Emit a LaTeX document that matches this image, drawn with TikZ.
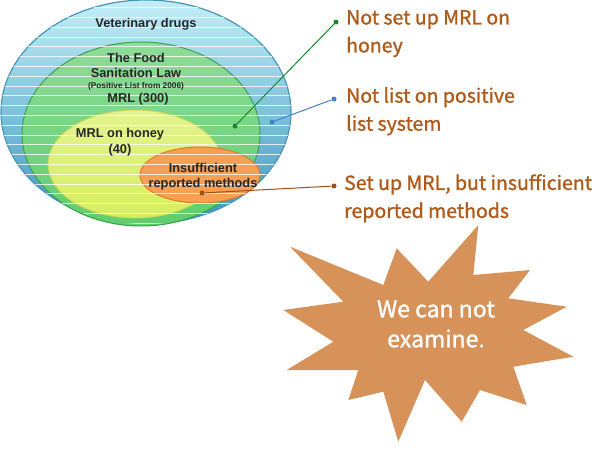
\documentclass[tikz,border=0pt]{standalone}
\usepackage{fontspec}
\setmainfont{Liberation Sans}
\newfontfamily\notefont[FakeBold=1.2]{Noto Sans CJK JP}
\usetikzlibrary{positioning}

\definecolor{vetedge}{RGB}{70,150,185}
\definecolor{vettop}{RGB}{195,238,248}
\definecolor{vetbot}{RGB}{60,150,190}
\definecolor{lawedge}{RGB}{60,160,80}
\definecolor{lawfill}{RGB}{95,205,110}
\definecolor{honeyedge}{RGB}{200,215,90}
\definecolor{honeyfill}{RGB}{215,238,95}
\definecolor{lackedge}{RGB}{225,120,50}
\definecolor{lackfill}{RGB}{245,160,85}
\definecolor{notebrown}{RGB}{175,90,25}
\definecolor{burstfill}{RGB}{214,146,88}
\definecolor{dotgreen}{RGB}{20,140,40}
\definecolor{dotblue}{RGB}{75,125,200}
\definecolor{dotbrown}{RGB}{160,80,20}

\tikzset{
  setlabel/.style={text=black!85, align=center, inner sep=0pt},
  note/.style={font=\notefont\fontsize{19.5}{28}\selectfont, text=notebrown, align=left, anchor=north west, inner sep=0pt},
  pin/.style={circle, inner sep=0pt, minimum size=5pt},
  leader/.style={line width=1pt}
}

\begin{document}
\begin{tikzpicture}[x=1pt,y=-1pt]
    \useasboundingbox (0,0) rectangle (603,453);

    % nested sets
    \path[draw=vetedge, line width=1.2pt, top color=vettop, bottom color=vetbot]
        (146,112) ellipse[x radius=145, y radius=112];
    \path[draw=lawedge, line width=1pt, top color=lawfill!70!white, bottom color=lawfill]
        (141,134) ellipse[x radius=119, y radius=92];
    \path[draw=honeyedge, line width=1pt, top color=honeyfill!70!white, bottom color=honeyfill]
        (135,164) ellipse[x radius=87, y radius=54];
    \path[draw=lackedge, line width=1pt, fill=lackfill]
        (200,175) ellipse[x radius=60, y radius=28];

    % stripes
    \begin{scope}
        \clip (146,112) ellipse[x radius=145, y radius=112];
        \foreach \y in {7.5,17.3,...,226}
            \draw[white, opacity=0.8, line width=0.7pt] (0,\y) -- (300,\y);
    \end{scope}

    \node[setlabel, font=\bfseries\fontsize{12.8}{15}\selectfont] (vet) at (146,24) {Veterinary drugs};
    \node[setlabel, font=\bfseries\fontsize{12.8}{15}\selectfont] (law) at (136,65) {The Food\\Sanitation Law};
    \node[setlabel, font=\bfseries\fontsize{8.3}{9}\selectfont] (list) at (136,86) {(Positive List from 2006)};
    \node[setlabel, font=\bfseries\fontsize{12.8}{15}\selectfont] (mrl) at (138,99) {MRL (300)};
    \node[setlabel, font=\bfseries\fontsize{12.8}{16}\selectfont] (honey) at (120,142) {MRL on honey\\(40)};
    \node[setlabel, font=\bfseries\fontsize{12.8}{15}\selectfont] (lack) at (203,177) {Insufficient\\reported methods};

    % pins and leaders
    \node[pin, fill=dotgreen] (g1) at (235,126) {};
    \node[pin, fill=dotgreen] (g2) at (336,22) {};
    \node[pin, fill=dotblue] (b1) at (272,122) {};
    \node[pin, fill=dotblue] (b2) at (334,99) {};
    \node[pin, fill=dotbrown] (r1) at (202,193) {};
    \node[pin, fill=dotbrown] (r2) at (334,186) {};
    \draw[leader, dotgreen] (g1) -- (g2);
    \draw[leader, dotblue] (b1) -- (b2);
    \draw[leader, dotbrown] (r1) -- (r2);

    \node[note] (n1) at (346,10) {Not set up MRL on\\honey};
    \node[note] (n2) at (346,87) {Not list on positive\\list system};
    \node[note] (n3) at (344,174) {Set up MRL, but insufficient\\reported methods};

    % burst
    \fill[burstfill] (290,246.7) -- (383.3,285) -- (396.7,248.3) -- (428.3,281.7)
        -- (478.3,225) -- (473.3,275) -- (530,270) -- (508.3,298.3)
        -- (566.7,306.7) -- (523.3,330) -- (573.3,356.7) -- (513.3,366.7)
        -- (526.7,405) -- (480,390) -- (461.7,421.7) -- (425,380)
        -- (398.3,441.7) -- (383.3,391.7) -- (348.3,400) -- (358.3,370)
        -- (286.7,370) -- (333.3,341.7) -- (283.3,310) -- (343.3,301.7) -- cycle;
    \node[font=\notefont\fontsize{23}{30}\selectfont, text=white, align=center] (msg) at (436,324) {We can not\\examine.};
\end{tikzpicture}
\end{document}
